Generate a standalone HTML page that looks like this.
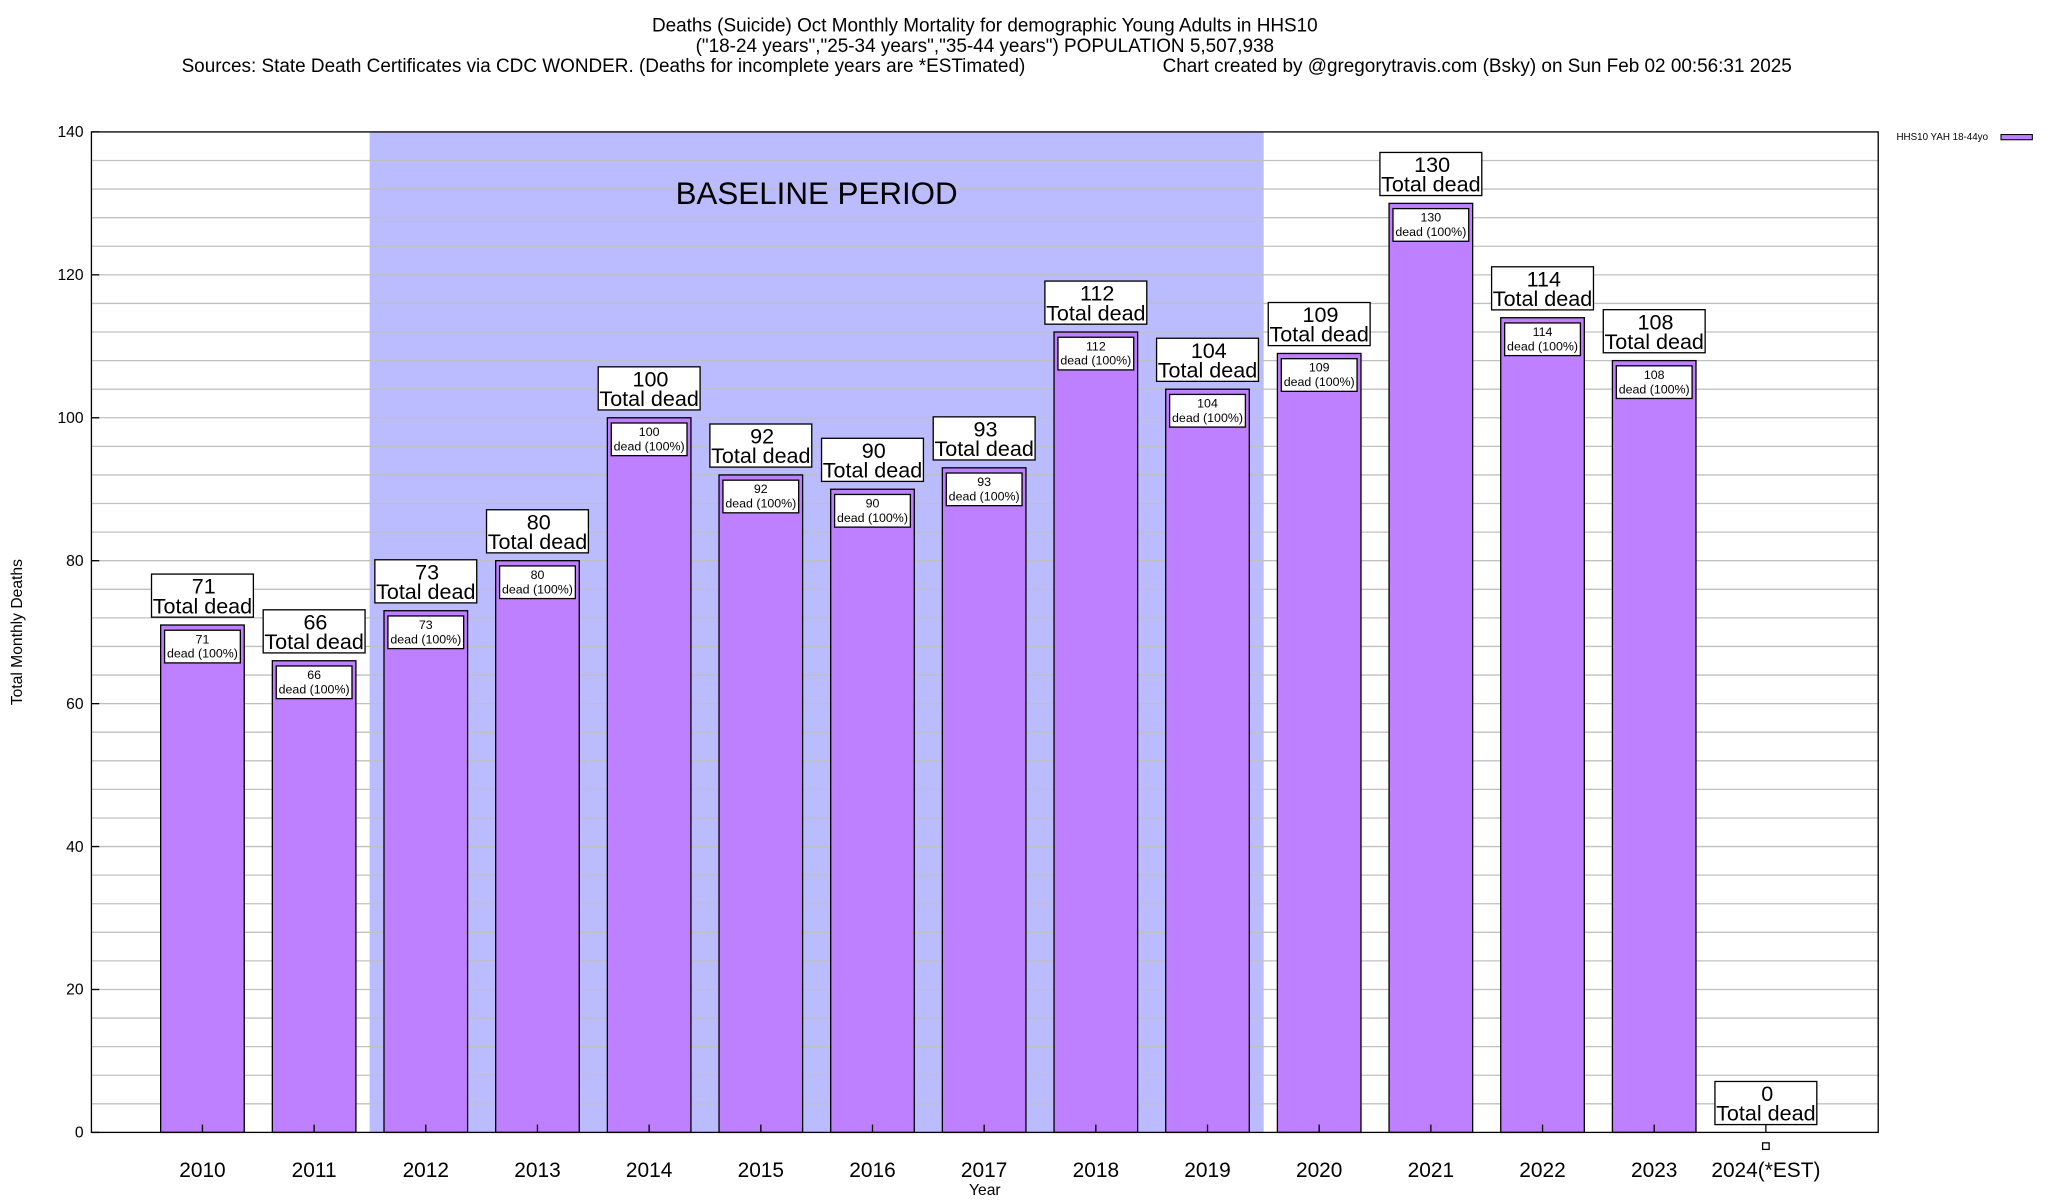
<!DOCTYPE html>
<html><head><meta charset="utf-8"><style>
html,body{margin:0;padding:0;background:#fff;}
svg{display:block;font-family:"Liberation Sans",Arial,sans-serif;}
</style></head><body>
<svg id="chart" width="2048" height="1200" viewBox="0 0 1568 918.75" xmlns="http://www.w3.org/2000/svg">
<g font-size="14.5" text-anchor="middle" fill="#000">
<text x="754" y="24">Deaths (Suicide) Oct Monthly Mortality for demographic Young Adults in HHS10</text>
<text x="754" y="40">("18-24 years","25-34 years","35-44 years") POPULATION 5,507,938</text>
<text x="462" y="55">Sources: State Death Certificates via CDC WONDER. (Deaths for incomplete years are *ESTimated)</text>
<text x="1131" y="55">Chart created by @gregorytravis.com (Bsky) on Sun Feb 02 00:56:31 2025</text>
</g>
<g id="plot"></g>
<text x="17" y="484" font-size="12" text-anchor="middle" transform="rotate(-90 17 484)">Total Monthly Deaths</text>
<text x="754" y="915" font-size="12" text-anchor="middle">Year</text>
<g>
<text x="1452" y="107" font-size="7.5">HHS10 YAH 18-44yo</text>
<rect x="1532" y="103" width="24" height="4" fill="#bf80ff" stroke="#000" stroke-width="0.8"/>
</g>
</svg>
<script>
const categories=["2010","2011","2012","2013","2014","2015","2016","2017","2018","2019","2020","2021","2022","2023","2024(*EST)"];
const values=[71,66,73,80,100,92,90,93,112,104,109,130,114,108,0];
const yTicks=[0,20,40,60,80,100,120,140];
const baselineStart=2, baselineEnd=9;
const NS="http://www.w3.org/2000/svg";
const L=70,R=1438,T=101,B=867,yMax=140;
const xc=i=>155+i*85.5;
const y=v=>B-(v/yMax)*(B-T);
const g=document.getElementById('plot');
function mk(tag,attrs,parent){const e=document.createElementNS(NS,tag);for(const k in attrs)e.setAttribute(k,attrs[k]);(parent||g).appendChild(e);return e;}
let sh=mk('rect',{x:xc(baselineStart)-43,y:T,width:xc(baselineEnd)-xc(baselineStart)+86,height:B-T,fill:'#bbbbff'});


for(let v=4;v<yMax;v+=4){let l=mk('line',{x1:L,x2:R,y1:y(v),y2:y(v),stroke:'#c0c0c0','stroke-width':1});

}
let bt=mk('text',{x:(xc(baselineStart)+xc(baselineEnd))/2,y:156,'font-size':24,'text-anchor':'middle'});
bt.textContent='BASELINE PERIOD';


for(const v of yTicks){let t=mk('text',{x:L-6,y:y(v)+4,'font-size':12,'text-anchor':'end'});t.textContent=v;


mk('line',{x1:L,x2:L+6,y1:y(v),y2:y(v),stroke:'#000'});}
categories.forEach((c,i)=>{
const v=values[i],x=xc(i),top=y(v);
if(v>0){
let b=mk('rect',{x:x-32,y:top,width:64,height:B-top,fill:'#bf80ff',stroke:'#000','stroke-width':1});


mk('rect',{x:x-29,y:top+4,width:58,height:25,fill:'#fff',stroke:'#000','stroke-width':1});
let t1=mk('text',{x:x,y:top+14,'font-size':9.5,'text-anchor':'middle'});t1.textContent=v;


let t2=mk('text',{x:x,y:top+25,'font-size':9.5,'text-anchor':'middle'});t2.textContent='dead (100%)';


} else {
mk('rect',{x:x-2.5,y:B+8,width:5,height:5,fill:'#fff',stroke:'#000','stroke-width':1});
}
const by=top-6-33;
let bx=mk('rect',{x:x-39,y:by,width:78,height:33,fill:'#fff',stroke:'#000','stroke-width':1});


let t3=mk('text',{x:x+1,y:by+15,'font-size':16.5,'text-anchor':'middle'});t3.textContent=v;


let t4=mk('text',{x:x,y:by+30,'font-size':16.5,'text-anchor':'middle'});t4.textContent='Total dead';


mk('line',{x1:x,x2:x,y1:B,y2:B-6,stroke:'#000'});
let xt=mk('text',{x:x,y:901,'font-size':16,'text-anchor':'middle'});xt.textContent=c;


});
let fr=mk('rect',{x:L,y:T,width:R-L,height:B-T,fill:'none',stroke:'#000','stroke-width':1});


</script>
</body></html>
